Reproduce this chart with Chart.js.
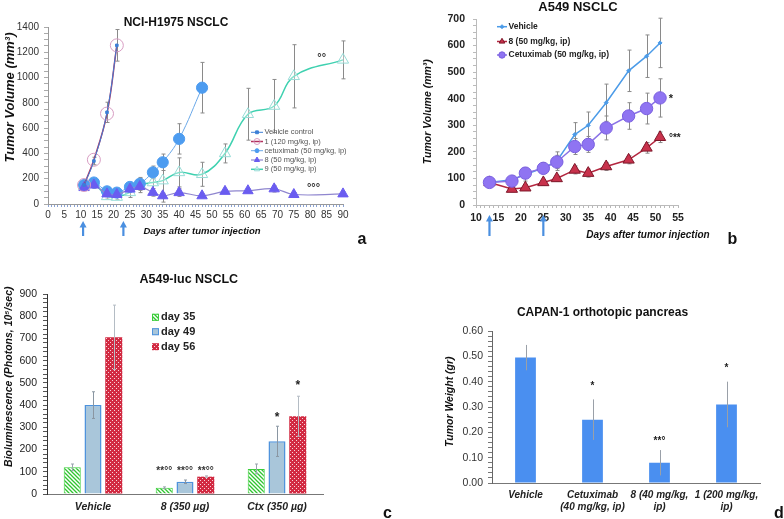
<!DOCTYPE html>
<html><head><meta charset="utf-8">
<script src="https://cdn.jsdelivr.net/npm/chart.js@4/dist/chart.umd.min.js"></script>
<style>
html,body{margin:0;padding:0;background:#fff;}
#wrap{position:relative;width:784px;height:519px;overflow:hidden;background:#fff;}
canvas{position:absolute;}
</style></head><body>
<div id="wrap">
<canvas id="ca" width="392" height="260" style="left:0;top:0"></canvas>
<canvas id="cb" width="392" height="260" style="left:392px;top:0"></canvas>
<canvas id="cc" width="392" height="259" style="left:0;top:260px"></canvas>
<canvas id="cd" width="392" height="259" style="left:392px;top:260px"></canvas>
</div>
<script>
// ---------- Panel a: NCI-H1975 NSCLC ----------
const aLabels = ['Vehicle control','1 (120 mg/kg, ip)','cetuximab (50 mg/kg, ip)','8 (50 mg/kg, ip)','9 (50 mg/kg, ip)'];
const aDays = [11,14,18,21,25,28,32,35,40,47,54,61,69,75,90];
const aVehicle = [150,340,725,1255];
const aVehicleErr = [20,30,80,125];
const aCmpd1 = [150,350,715,1255];
const aCetux = [150,170,100,90,135,160,250,330,515,920];
const aCetuxErr = [20,25,20,20,30,40,50,65,120,200];
const aCmpd8 = [130,150,80,75,118,138,92,65,90,65,100,105,120,75,80];
const aCmpd8Err = [15,25,20,15,20,30,30,20,30,15,15,15,25,15,15];
const aCmpd9 = [140,160,60,55,92,150,170,185,250,235,400,710,775,1010,1140];
const aCmpd9Err = [20,20,20,20,40,60,70,170,115,95,75,205,210,250,150];
const aArrowDays = [10.7,23];
const aXTicks = [0,5,10,15,20,25,30,35,40,45,50,55,60,65,70,75,80,85,90];
const aYTicks = [0,200,400,600,800,1000,1200,1400];

// ---------- Panel b: A549 NSCLC ----------
const bLabels = ['Vehicle','8 (50 mg/kg, ip)','Cetuximab (50 mg/kg, ip)'];
const bDays = [13,18,21,25,28,32,35,39,44,48,51];
const bVehicle = [85,95,115,140,165,265,300,385,505,560,610];
const bVehicleErr = [10,15,25,20,35,45,50,70,78,80,93];
const bCmpd8 = [85,60,65,85,100,132,120,145,170,215,255];
const bCmpd8Err = [8,10,10,10,10,15,15,15,15,20,20];
const bCetux = [85,90,120,138,162,220,228,290,335,363,403];
const bCetuxErr = [8,10,20,20,25,30,30,45,50,58,72];
const bArrowDays = [13,25];
const bXTicks = [10,15,20,25,30,35,40,45,50,55];
const bYTicks = [0,100,200,300,400,500,600,700];

// ---------- Panel c: A549-luc NSCLC ----------
const cGroups = ['Vehicle','8 (350 µg)','Ctx (350 µg)'];
const cSeries = ['day 35','day 49','day 56'];
const cDay35 = [120,28,113];
const cDay35Err = [15,4,22];
const cDay49 = [400,55,237];
const cDay49Err = [60,8,68];
const cDay56 = [705,78,350];
const cDay56Err = [145,4,90];
const cYTicks = [0,100,200,300,400,500,600,700,800,900];

// ---------- Panel d: CAPAN-1 orthotopic pancreas ----------
const dGroups = [['Vehicle'],['Cetuximab','(40 mg/kg, ip)'],['8 (40 mg/kg,','ip)'],['1 (200 mg/kg,','ip)']];
const dWeight = [0.495,0.25,0.08,0.31];
const dWeightErr = [0.05,0.08,0.05,0.09];
const dYTicks = [0,0.1,0.2,0.3,0.4,0.5,0.6];

// ---------- helpers ----------
const FAM = "'Liberation Sans', Arial, Helvetica, sans-serif";
Chart.defaults.font.family = FAM;
Chart.defaults.animation = false;
function fnt(sz, w, st){ return (st||'normal') + ' ' + (w||'normal') + ' ' + sz + 'px ' + FAM; }
const pts = (xs, ys) => ys.map((y,i)=>({x:xs[i], y:y}));
function fix(size){ return function(s){ if(s.isHorizontal()){ s.height=size; s.paddingLeft=0; s.paddingRight=0; } else { s.width=size; s.paddingTop=0; s.paddingBottom=0; } }; }
function near(v, list){ return list.some(t=>Math.abs(t-v)<1e-6); }
function text(ctx, s, x, y, f, color, align, rot){
  ctx.save(); ctx.font=f; ctx.fillStyle=color||'#222'; ctx.textAlign=align||'center'; ctx.textBaseline='middle';
  ctx.translate(x,y); if(rot) ctx.rotate(rot); ctx.fillText(s,0,0); ctx.restore();
}
function arrowUp(ctx, x, yTop, yBot, color){
  ctx.save(); ctx.strokeStyle=color; ctx.fillStyle=color; ctx.lineWidth=2.2;
  ctx.beginPath(); ctx.moveTo(x,yBot); ctx.lineTo(x,yTop+5); ctx.stroke();
  ctx.beginPath(); ctx.moveTo(x,yTop); ctx.lineTo(x-3.5,yTop+6.5); ctx.lineTo(x+3.5,yTop+6.5); ctx.closePath(); ctx.fill();
  ctx.restore();
}
function errXY(chart, xs, ys, errs, color, cap){
  const ctx=chart.ctx, X=chart.scales.x, Y=chart.scales.y;
  ctx.save(); ctx.strokeStyle=color; ctx.lineWidth=1;
  ys.forEach((v,i)=>{
    const px=Math.round(X.getPixelForValue(xs[i]))+0.5, y1=Y.getPixelForValue(v-errs[i]), y2=Y.getPixelForValue(v+errs[i]);
    ctx.beginPath(); ctx.moveTo(px,y1); ctx.lineTo(px,y2);
    if(cap){ ctx.moveTo(px-cap,y1); ctx.lineTo(px+cap,y1); ctx.moveTo(px-cap,y2); ctx.lineTo(px+cap,y2); }
    ctx.stroke();
  });
  ctx.restore();
}
function errBar(chart, di, ys, errs, color, cap){
  const ctx=chart.ctx, Y=chart.scales.y, meta=chart.getDatasetMeta(di);
  ctx.save(); ctx.strokeStyle=color; ctx.lineWidth=1;
  ys.forEach((v,i)=>{
    const px=Math.round(meta.data[i].x)+0.5, y1=Y.getPixelForValue(v-errs[i]), y2=Y.getPixelForValue(v+errs[i]);
    ctx.beginPath(); ctx.moveTo(px,y1); ctx.lineTo(px,y2);
    if(cap){ ctx.moveTo(px-cap,y1); ctx.lineTo(px+cap,y1); ctx.moveTo(px-cap,y2); ctx.lineTo(px+cap,y2); }
    ctx.stroke();
  });
  ctx.restore();
}
function legendLine(ctx, x0, x1, y, ds, r, label, f, color){
  ctx.save();
  ctx.strokeStyle=ds.borderColor; ctx.lineWidth=ds.borderWidth;
  ctx.beginPath(); ctx.moveTo(x0,y); ctx.lineTo(x1,y); ctx.stroke();
  ctx.fillStyle=ds.pointBackgroundColor; ctx.strokeStyle=ds.pointBorderColor; ctx.lineWidth=ds.pointBorderWidth||1;
  Chart.helpers.drawPoint(ctx, {pointStyle:ds.pointStyle, radius:r, rotation:0, borderWidth:ds.pointBorderWidth||1}, (x0+x1)/2, y);
  ctx.restore();
  text(ctx, label, x1+1.5, y, f, color, 'left');
}
function yAxis(min,max,step,labels,fmt,pad,tl,color,sz,weight,tickColor,borderColor,width){
  return {type:'linear', min:min, max:max, afterFit:fix(width),
    ticks:{stepSize:step, autoSkip:false, maxTicksLimit:1000, padding:pad, color:color, font:{size:sz, weight:weight},
      callback:v=> near(v,labels) ? fmt(v) : ''},
    grid:{drawOnChartArea:false, tickLength:tl, color:tickColor},
    border:{display:true, color:borderColor, width:1}};
}

// ================= Panel a =================
const dsA = [
  {label:aLabels[0], data:pts(aDays,aVehicle), borderColor:'#3d7fd6', borderWidth:1, pointStyle:'rect', pointRadius:1.8,
   pointBackgroundColor:'#3d7fd6', pointBorderColor:'#3d7fd6', pointBorderWidth:1, tension:0.4, order:0, clip:false},
  {label:aLabels[1], data:pts(aDays,aCmpd1), borderColor:'#b3305c', borderWidth:1.5, pointStyle:'circle', pointRadius:6.5,
   pointBackgroundColor:'rgba(255,255,255,0)', pointBorderColor:'#d79cc2', pointBorderWidth:1, tension:0.4, order:1, clip:false},
  {label:aLabels[2], data:pts(aDays,aCetux), borderColor:'#6aa8e8', borderWidth:1, pointStyle:'circle', pointRadius:5.6,
   pointBackgroundColor:'#4d9cf0', pointBorderColor:'#4d9cf0', pointBorderWidth:1, tension:0.4, order:3, clip:false},
  {label:aLabels[3], data:pts(aDays,aCmpd8), borderColor:'#8f86cf', borderWidth:1.2, pointStyle:'triangle', pointRadius:6,
   pointBackgroundColor:'#6a5cf0', pointBorderColor:'#6a5cf0', pointBorderWidth:1, tension:0.4, order:2, clip:false},
  {label:aLabels[4], data:pts(aDays,aCmpd9), borderColor:'#3fd1b0', borderWidth:1.5, pointStyle:'triangle', pointRadius:6.5,
   pointBackgroundColor:'rgba(255,255,255,0.35)', pointBorderColor:'#97dcd7', pointBorderWidth:1, tension:0.4, order:4, clip:false}
];
const aPlugin = {id:'aExtras',
  beforeDatasetsDraw(chart){
    errXY(chart, aDays, aVehicle, aVehicleErr, '#8a8a8a', 2);
    errXY(chart, aDays, aCetux, aCetuxErr, '#8a8a8a', 2);
    errXY(chart, aDays, aCmpd8, aCmpd8Err, '#8a8a8a', 2);
    errXY(chart, aDays, aCmpd9, aCmpd9Err, '#8a8a8a', 2);
  },
  afterDraw(chart){
    const ctx=chart.ctx, X=chart.scales.x, Y=chart.scales.y;
    text(ctx, 'NCI-H1975 NSCLC', 176, 23, fnt(12,'bold'), '#111');
    text(ctx, 'Tumor Volume (mm³)', 10, 97.5, fnt(13,'bold','italic'), '#111', 'center', -Math.PI/2);
    text(ctx, 'Days after tumor injection', 202, 231, fnt(9.5,'bold','italic'), '#111');
    text(ctx, 'a', 362, 240, fnt(16,'bold'), '#111');
    const rows=[132.3,141.5,150.7,160,169.3];
    dsA.forEach((ds,i)=> legendLine(ctx, 251, 263, rows[i], ds, i===2||i===0?2:3, ds.label, fnt(7.5), '#555'));
    text(ctx, '°°', X.getPixelForValue(83.5), Y.getPixelForValue(1152), fnt(11,'bold'), '#333');
    text(ctx, '°°°', X.getPixelForValue(81), Y.getPixelForValue(124), fnt(11,'bold'), '#333');
    aArrowDays.forEach(d=> arrowUp(ctx, X.getPixelForValue(d), 221, 236, '#4a8fe0'));
  }
};
new Chart(document.getElementById('ca'), {type:'line', data:{datasets:dsA},
  options:{responsive:false, animation:false,
    layout:{padding:{left:0,right:49,top:27,bottom:32}},
    scales:{
      x:{type:'linear', min:0, max:90, afterFit:fix(24),
        ticks:{stepSize:1, autoSkip:false, maxTicksLimit:1000, maxRotation:0, padding:2, color:'#333', font:{size:10},
          callback:v=> near(v,aXTicks) ? String(v) : ''},
        grid:{drawOnChartArea:false, tickLength:3, color:'#8aa2d4'}, border:{display:true,color:'#999'}},
      y:yAxis(0,1400,50,aYTicks,v=>String(v),5,4,'#333',10,'normal','#aaa','#999',48)
    },
    plugins:{legend:{display:false}, tooltip:{enabled:false}, title:{display:false}}},
  plugins:[aPlugin]});

// ================= Panel b =================
const dsB = [
  {label:bLabels[0], data:pts(bDays,bVehicle), borderColor:'#4b9be8', borderWidth:1.5, pointStyle:'rectRot', pointRadius:2,
   pointBackgroundColor:'#4b9be8', pointBorderColor:'#4b9be8', pointBorderWidth:1, tension:0, order:2, clip:false},
  {label:bLabels[1], data:pts(bDays,bCmpd8), borderColor:'#b3263f', borderWidth:1.5, pointStyle:'triangle', pointRadius:6.5,
   pointBackgroundColor:'#c8324c', pointBorderColor:'#7d1628', pointBorderWidth:1, tension:0, order:1, clip:false},
  {label:bLabels[2], data:pts(bDays,bCetux), borderColor:'#8a72e6', borderWidth:1.5, pointStyle:'circle', pointRadius:6.2,
   pointBackgroundColor:'#8f74f2', pointBorderColor:'#7a60e0', pointBorderWidth:1, tension:0, order:0, clip:false}
];
const bPlugin = {id:'bExtras',
  beforeDatasetsDraw(chart){
    errXY(chart, bDays, bVehicle, bVehicleErr, '#8a8a8a', 2);
    errXY(chart, bDays, bCetux, bCetuxErr, '#8a8a8a', 2);
    errXY(chart, bDays, bCmpd8, bCmpd8Err, '#8a8a8a', 2);
  },
  afterDraw(chart){
    const ctx=chart.ctx, X=chart.scales.x, Y=chart.scales.y;
    text(ctx, 'A549 NSCLC', 186, 7.5, fnt(13,'bold'), '#111');
    text(ctx, 'Tumor Volume (mm³)', 36, 111.7, fnt(10.5,'bold','italic'), '#111', 'center', -Math.PI/2);
    text(ctx, 'Days after tumor injection', 256, 235, fnt(10,'bold','italic'), '#111');
    text(ctx, 'b', 340.5, 240, fnt(16,'bold'), '#111');
    const rows=[26.7,41.5,55];
    dsB.forEach((ds,i)=> legendLine(ctx, 105, 115, rows[i], ds, i===0?2:3.2, ds.label, fnt(8.5,'bold'), '#222'));
    text(ctx, '*', X.getPixelForValue(53.4), Y.getPixelForValue(400), fnt(11,'bold'), '#222');
    text(ctx, '°**', X.getPixelForValue(54.3), Y.getPixelForValue(253), fnt(10,'bold'), '#222');
    bArrowDays.forEach(d=> arrowUp(ctx, X.getPixelForValue(d), 215, 236, '#4a8fe0'));
  }
};
new Chart(document.getElementById('cb'), {type:'line', data:{datasets:dsB},
  options:{responsive:false, animation:false,
    layout:{padding:{left:0,right:106,top:19,bottom:31}},
    scales:{
      x:{type:'linear', min:10, max:55, afterFit:fix(24),
        ticks:{stepSize:1, autoSkip:false, maxTicksLimit:1000, maxRotation:0, padding:4, color:'#222', font:{size:10.5, weight:'bold'},
          callback:v=> near(v,bXTicks) ? String(v) : ''},
        grid:{drawOnChartArea:false, tickLength:3, color:'#b8b8b8'}, border:{display:true,color:'#bbb'}},
      y:yAxis(0,700,25,bYTicks,v=>String(v),8,3,'#222',10.5,'bold','#bbb','#bbb',84)
    },
    plugins:{legend:{display:false}, tooltip:{enabled:false}, title:{display:false}}},
  plugins:[bPlugin]});

// ================= Panel c =================
function makePattern(draw, w, h){
  const c=document.createElement('canvas'); c.width=w; c.height=h; const g=c.getContext('2d'); draw(g);
  return document.getElementById('cc').getContext('2d').createPattern(c,'repeat');
}
const patGreen = makePattern(g=>{ g.fillStyle='#ffffff'; g.fillRect(0,0,4,4); g.strokeStyle='#2fc52f'; g.lineWidth=1.3;
  g.beginPath(); g.moveTo(-1,-1); g.lineTo(5,5); g.moveTo(-1,3); g.lineTo(1,5); g.moveTo(3,-1); g.lineTo(5,1); g.stroke(); }, 4, 4);
const patRed = makePattern(g=>{ g.fillStyle='#d22a42'; g.fillRect(0,0,4,4); g.fillStyle='#f7d3d9';
  g.fillRect(0,0,1,1); g.fillRect(2,2,1,1); }, 4, 4);
const cColors = [
  {bg:patGreen, border:'#3ccf3c', bw:1},
  {bg:'#a9c6da', border:'#4f93dc', bw:1.5},
  {bg:patRed, border:'#d22a42', bw:0}
];
const dsC = [cDay35,cDay49,cDay56].map((vals,i)=>({label:cSeries[i], data:vals,
  backgroundColor:cColors[i].bg, borderColor:cColors[i].border, borderWidth:cColors[i].bw,
  barPercentage:0.82, categoryPercentage:0.677}));
const cPlugin = {id:'cExtras',
  afterDatasetsDraw(chart){
    errBar(chart, 0, cDay35, cDay35Err, '#9aa4ae', 1.5);
    errBar(chart, 1, cDay49, cDay49Err, '#8a96a2', 1.5);
    errBar(chart, 2, cDay56, cDay56Err, '#b4bcc4', 1.5);
  },
  afterDraw(chart){
    const ctx=chart.ctx, Y=chart.scales.y;
    text(ctx, 'A549-luc NSCLC', 188.8, 19.5, fnt(12.5,'bold'), '#111');
    text(ctx, 'Bioluminescence (Photons, 10⁵/sec)', 9, 116.7, fnt(10.5,'bold','italic'), '#111', 'center', -Math.PI/2);
    text(ctx, 'c', 387.5, 253.3, fnt(16,'bold'), '#111');
    const rows=[57.3,71.7,86.7];
    cSeries.forEach((s,i)=>{
      ctx.save(); ctx.fillStyle=cColors[i].bg; ctx.fillRect(152,rows[i]-3.5,7,7);
      if(cColors[i].bw){ ctx.strokeStyle=cColors[i].border; ctx.lineWidth=1; ctx.strokeRect(152.5,rows[i]-3,6,6); }
      ctx.restore();
      text(ctx, s, 161, rows[i], fnt(11,'bold'), '#222', 'left');
    });
    for(let d=0; d<3; d++){ const m=chart.getDatasetMeta(d); text(ctx, '**°°', m.data[1].x, Y.getPixelForValue(101), fnt(10,'bold'), '#333'); }
    text(ctx, '*', chart.getDatasetMeta(1).data[2].x, Y.getPixelForValue(343), fnt(12,'bold'), '#222');
    text(ctx, '*', chart.getDatasetMeta(2).data[2].x, Y.getPixelForValue(489), fnt(12,'bold'), '#222');
  }
};
new Chart(document.getElementById('cc'), {type:'bar', data:{labels:cGroups, datasets:dsC},
  options:{responsive:false, animation:false,
    layout:{padding:{left:0,right:69,top:34,bottom:1}},
    scales:{
      x:{type:'category', afterFit:fix(24),
        ticks:{padding:7, color:'#222', font:{size:10.5, weight:'bold', style:'italic'}, maxRotation:0, autoSkip:false},
        grid:{display:false, drawTicks:false}, border:{display:true,color:'#777'}},
      y:yAxis(0,900,20,cYTicks,v=>String(v),6,4,'#222',10.5,'normal','#555','#333',47)
    },
    plugins:{legend:{display:false}, tooltip:{enabled:false}, title:{display:false}}},
  plugins:[cPlugin]});

// ================= Panel d =================
const dPlugin = {id:'dExtras',
  afterDatasetsDraw(chart){ errBar(chart, 0, dWeight, dWeightErr, '#9aa0a8', 0); },
  afterDraw(chart){
    const ctx=chart.ctx, Y=chart.scales.y, m=chart.getDatasetMeta(0);
    text(ctx, 'CAPAN-1 orthotopic pancreas', 210.5, 52.8, fnt(12,'bold'), '#111');
    text(ctx, 'Tumor Weight (gr)', 58, 141.7, fnt(10.5,'bold','italic'), '#111', 'center', -Math.PI/2);
    text(ctx, 'd', 387, 253.7, fnt(16,'bold'), '#111');
    text(ctx, '*', m.data[1].x, Y.getPixelForValue(0.383), fnt(10,'bold'), '#222');
    text(ctx, '**°', m.data[2].x, Y.getPixelForValue(0.164), fnt(10,'bold'), '#222');
    text(ctx, '*', m.data[3].x, Y.getPixelForValue(0.453), fnt(10,'bold'), '#222');
  }
};
new Chart(document.getElementById('cd'), {type:'bar',
  data:{labels:dGroups, datasets:[{label:'Tumor Weight', data:dWeight, backgroundColor:'#4a8ff0', borderWidth:0,
    barPercentage:0.31, categoryPercentage:1}]},
  options:{responsive:false, animation:false,
    layout:{padding:{left:0,right:24,top:71,bottom:0}},
    scales:{
      x:{type:'category', afterFit:fix(36),
        ticks:{padding:6, color:'#222', font:{size:10, weight:'bold', style:'italic'}, maxRotation:0, autoSkip:false},
        grid:{display:false, drawTicks:false}, border:{display:true,color:'#777'}},
      y:yAxis(0,0.6,0.02,dYTicks,v=>v.toFixed(2),5,4,'#333',10.5,'normal','#777','#666',100)
    },
    plugins:{legend:{display:false}, tooltip:{enabled:false}, title:{display:false}}},
  plugins:[dPlugin]});
</script>
</body></html>
